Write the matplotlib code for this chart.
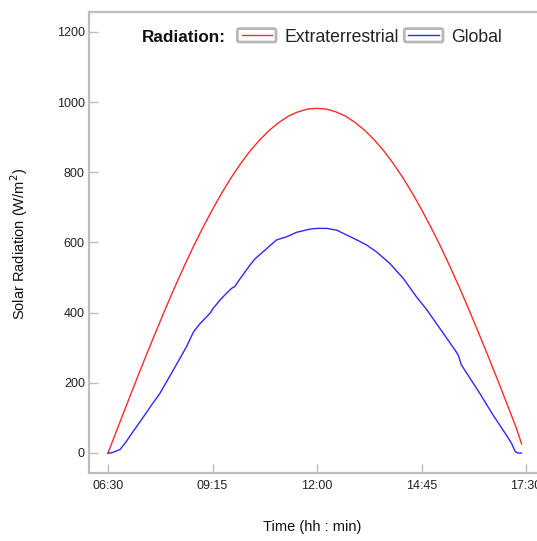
import matplotlib
matplotlib.use("Agg")
import matplotlib.pyplot as plt
from matplotlib.lines import Line2D
from matplotlib.patches import FancyBboxPatch
from matplotlib.legend_handler import HandlerBase
from matplotlib.ticker import FuncFormatter, FixedLocator

plt.rcParams['font.family'] = ['Liberation Sans', 'DejaVu Sans']

# ---- data ----
extra_times = ["06:30", "06:45", "07:00", "07:15", "07:30", "07:45", "08:00", "08:15",
               "08:30", "08:45", "09:00", "09:15", "09:30", "09:45", "10:00", "10:15",
               "10:30", "10:45", "11:00", "11:15", "11:30", "11:45", "12:00", "12:15",
               "12:30", "12:45", "13:00", "13:15", "13:30", "13:45", "14:00", "14:15",
               "14:30", "14:45", "15:00", "15:15", "15:30", "15:45", "16:00", "16:15",
               "16:30", "16:45", "17:00", "17:15", "17:23"]
extra_values = [0, 70, 140, 209, 277, 343, 408, 471, 531, 589, 643, 694, 742, 786,
                826, 862, 893, 920, 942, 960, 972, 980, 982, 980, 972, 960, 942, 920,
                893, 862, 826, 786, 742, 694, 643, 589, 531, 471, 408, 343, 277, 209,
                140, 70, 26]

global_times = ["06:30", "06:35", "06:49", "06:57", "07:10", "07:26", "07:40", "07:52",
                "08:13", "08:34", "08:45", "08:55", "09:04", "09:11", "09:16", "09:27",
                "09:37", "09:45", "09:50", "09:58", "10:04", "10:14", "10:22", "10:41",
                "10:56", "11:12", "11:28", "11:49", "12:00", "12:15", "12:31", "12:47",
                "13:03", "13:18", "13:34", "13:55", "14:16", "14:37", "14:53", "15:14",
                "15:38", "15:43", "15:48", "16:17", "16:38", "16:59", "17:07", "17:13",
                "17:17", "17:23"]
global_values = [0, 0, 10, 28, 62, 103, 140, 170, 236, 303, 345, 368, 385, 398, 412,
                 436, 455, 469, 474, 495, 510, 535, 553, 583, 607, 616, 629, 638, 640,
                 640, 635, 621, 607, 593, 573, 540, 498, 445, 409, 355, 293, 279, 251,
                 170, 108, 51, 28, 4, 0, 0]

x_ticks = ["06:30", "09:15", "12:00", "14:45", "17:30"]
y_ticks = [0, 200, 400, 600, 800, 1000, 1200]


def to_min(s):
    h, m = s.split(":")
    return int(h) * 60 + int(m)


W, H = 537, 541
fig = plt.figure(figsize=(W / 100, H / 100), dpi=100)
ax_left, ax_bottom = 89 / W, (H - 473) / H
ax_h = (473 - 11.5) / H
ax_w = 456 / W
ax = fig.add_axes([ax_left, ax_bottom, ax_w, ax_h])

ax.plot([to_min(t) for t in extra_times], extra_values, color='#ff2a2a', lw=1.0,
        label='Extraterrestrial')
ax.plot([to_min(t) for t in global_times], global_values, color='#2a2aff', lw=1.0,
        label='Global')

ax.set_xlim(360, 1080)
ax.set_ylim(-57, 1258)
ax.xaxis.set_major_locator(FixedLocator([to_min(t) for t in x_ticks]))
ax.xaxis.set_major_formatter(FuncFormatter(lambda v, p: "%02d:%02d" % (int(v) // 60, int(v) % 60)))
ax.set_yticks(y_ticks)

spine_col = '#bdbdbd'
for s in ['left', 'bottom', 'top']:
    ax.spines[s].set_color(spine_col)
    ax.spines[s].set_linewidth(1.6)
ax.spines['right'].set_visible(False)
ax.tick_params(direction='in', length=6.5, width=1.0, color=spine_col,
               labelsize=9, labelcolor='#222222')
ax.tick_params(axis='y', pad=3)
ax.tick_params(axis='x', pad=5)


class BoxLineHandler(HandlerBase):
    def create_artists(self, legend, orig_handle, xdescent, ydescent, width,
                       height, fontsize, trans):
        h = fontsize * 0.76
        y0 = -ydescent + height / 2 - h / 2
        box = FancyBboxPatch((-xdescent + 1, y0), width - 2, h,
                             boxstyle="round,pad=0,rounding_size=1.5",
                             fc='white', ec='#b8b8b8', lw=2.0, transform=trans)
        line = Line2D([-xdescent + 4, -xdescent + width - 4], [y0 + h / 2] * 2,
                      color=orig_handle.get_color(), lw=1.0, transform=trans)
        return [box, line]


handles, labels = ax.get_legend_handles_labels()
leg = fig.legend(handles, labels, loc='center left',
                 bbox_to_anchor=(236 / W, 1 - 37 / H), ncol=2, frameon=False,
                 fontsize=12.7, borderpad=0, borderaxespad=0, handlelength=2.35,
                 handletextpad=0.4, columnspacing=0.23,
                 handler_map={Line2D: BoxLineHandler()})
for t in leg.get_texts():
    t.set_color('#222222')

fig.text(142 / W, 1 - 37 / H, "Radiation:", fontsize=12.3, fontweight='bold',
         color='#111111', va='center', ha='left')

fig.text(19 / W, 1 - 244 / H, "Solar Radiation (W/m$^2$)", rotation=90,
         fontsize=10.5, color='#111111', va='center', ha='center')
fig.text(312 / W, 1 - 527 / H, "Time (hh : min)", fontsize=10.5,
         color='#111111', va='center', ha='center')

fig.savefig("out.png", dpi=100)
